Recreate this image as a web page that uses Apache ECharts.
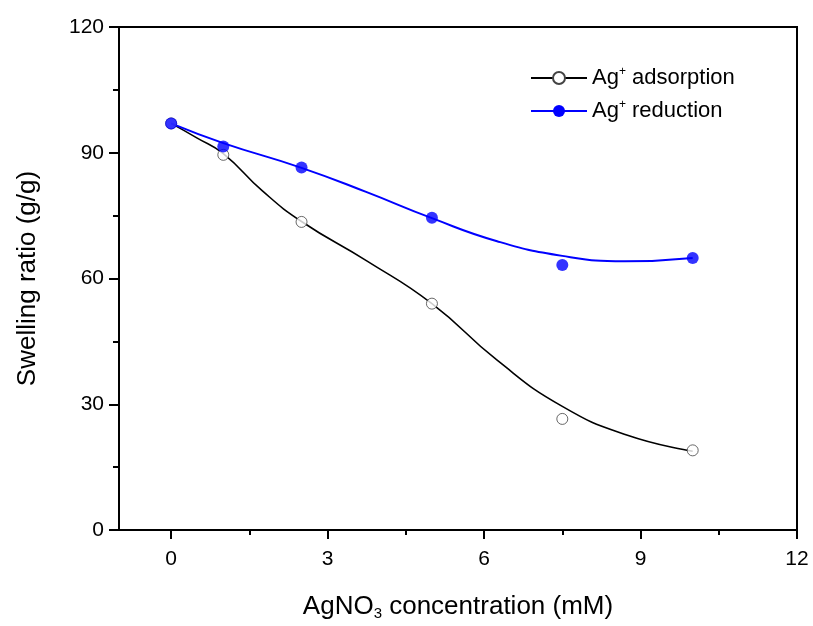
<!DOCTYPE html>
<html>
<head>
<meta charset="utf-8">
<script src="https://cdn.jsdelivr.net/npm/echarts@6/dist/echarts.min.js"></script>
<style>
  html, body { margin: 0; padding: 0; background: #fff; }
  #chart { width: 813px; height: 626px; }
</style>
</head>
<body>
<div id="chart"></div>
<script>
// measured points
const concX = [0, 1, 2.5, 5, 7.5, 10]
const adsorptionPts = [97, 89.5, 73.5, 54, 26.5, 19]
const reductionPts = [97, 91.5, 86.5, 74.5, 63.2, 64.9]
// fitted curves
const adsorptionCurveX = [0, 0.5, 1, 1.75, 2.5, 3.75, 5, 6.25, 7.5, 8.75, 10]
const adsorptionCurveY = [97, 93.5, 89.8, 80.9, 73.6, 64.2, 54, 40.5, 29.5, 22.6, 18.8]
const reductionCurveX = [0, 1, 2.5, 3.75, 5, 6.25, 7.5, 8.7, 10]
const reductionCurveY = [97, 92.3, 86.4, 80.6, 74.4, 68.9, 65.4, 64.1, 64.9]
const xTicks = [0, 3, 6, 9, 12]
const xMinorTicks = [1.5, 4.5, 7.5, 10.5]

const FONT = 'Liberation Sans, Arial, sans-serif'
const pairs = (xs, ys) => xs.map((x, i) => [x, ys[i]])

const chart = echarts.init(document.getElementById('chart'))

const option = {
  animation: false,
  grid: {
    left: 119, right: 16, top: 27, bottom: 94,
    show: true, borderColor: '#000', borderWidth: 2,
  },
  legend: {
    orient: 'vertical',
    left: 530,
    top: 66,
    padding: 0,
    itemWidth: 56,
    itemHeight: 15,
    itemGap: 10,
    data: ['Ag+ adsorption', 'Ag+ reduction'],
    formatter: (name) => name.replace('Ag+', 'Ag{sup|+}'),
    textStyle: {
      fontFamily: FONT, fontSize: 22, color: '#000',
      rich: {
        sup: { fontFamily: FONT, fontSize: 12, padding: [0, 0, 12, 0], color: '#000' },
      },
    },
  },
  xAxis: [
    {
      type: 'value',
      min: -1,
      max: 12,
      name: 'AgNO{sub|3} concentration (mM)',
      nameLocation: 'middle',
      nameGap: 62,
      nameTextStyle: {
        fontFamily: FONT, fontSize: 26, color: '#000',
        rich: { sub: { fontFamily: FONT, fontSize: 15, padding: [14, 0, 0, 0], color: '#000' } },
      },
      axisLine: { show: true, onZero: false, lineStyle: { color: '#000', width: 2 } },
      axisTick: { show: true, length: 9, customValues: xTicks, lineStyle: { color: '#000', width: 2 } },
      axisLabel: { customValues: xTicks, margin: 19, fontFamily: FONT, fontSize: 21, color: '#000' },
      splitLine: { show: false },
    },
    {
      type: 'value',
      min: -1,
      max: 12,
      position: 'bottom',
      axisLine: { show: false, onZero: false },
      axisTick: { show: true, length: 5, customValues: xMinorTicks, lineStyle: { color: '#000', width: 2 } },
      axisLabel: { show: false },
      splitLine: { show: false },
    },
  ],
  yAxis: {
    type: 'value',
    min: 0,
    max: 120,
    interval: 30,
    name: 'Swelling ratio (g/g)',
    nameLocation: 'middle',
    nameGap: 78,
    nameTextStyle: { fontFamily: FONT, fontSize: 26, color: '#000' },
    axisLine: { show: true, onZero: false, lineStyle: { color: '#000', width: 2 } },
    axisTick: { show: true, length: 10, lineStyle: { color: '#000', width: 2 } },
    minorTick: { show: true, splitNumber: 2, length: 6, lineStyle: { color: '#000', width: 2 } },
    axisLabel: { margin: 15, fontFamily: FONT, fontSize: 21, color: '#000' },
    splitLine: { show: false },
  },
  series: [
    {
      name: 'Ag+ adsorption',
      type: 'line',
      smooth: 0.5,
      data: pairs(adsorptionCurveX, adsorptionCurveY),
      symbol: 'circle',
      symbolSize: 10,
      showSymbol: false,
      lineStyle: { color: '#000', width: 1.6 },
      itemStyle: { color: '#fff', borderColor: '#444', borderWidth: 1 },
      emphasis: { disabled: true },
      z: 2,
    },
    {
      name: 'Ag+ adsorption',
      type: 'scatter',
      data: pairs(concX, adsorptionPts),
      symbol: 'circle',
      symbolSize: 11,
      itemStyle: { color: '#fff', borderColor: '#444', borderWidth: 1 },
      z: 4,
    },
    {
      name: 'Ag+ reduction',
      type: 'line',
      smooth: 0.5,
      data: pairs(reductionCurveX, reductionCurveY),
      symbol: 'circle',
      symbolSize: 11,
      showSymbol: false,
      lineStyle: { color: '#0000ff', width: 2 },
      itemStyle: { color: '#0000ff' },
      emphasis: { disabled: true },
      z: 3,
    },
    {
      name: 'Ag+ reduction',
      type: 'scatter',
      data: pairs(concX, reductionPts),
      symbol: 'circle',
      symbolSize: 12,
      itemStyle: { color: '#0000ff' },
      z: 5,
    },
  ],
}

chart.setOption(option)
</script>
</body>
</html>
